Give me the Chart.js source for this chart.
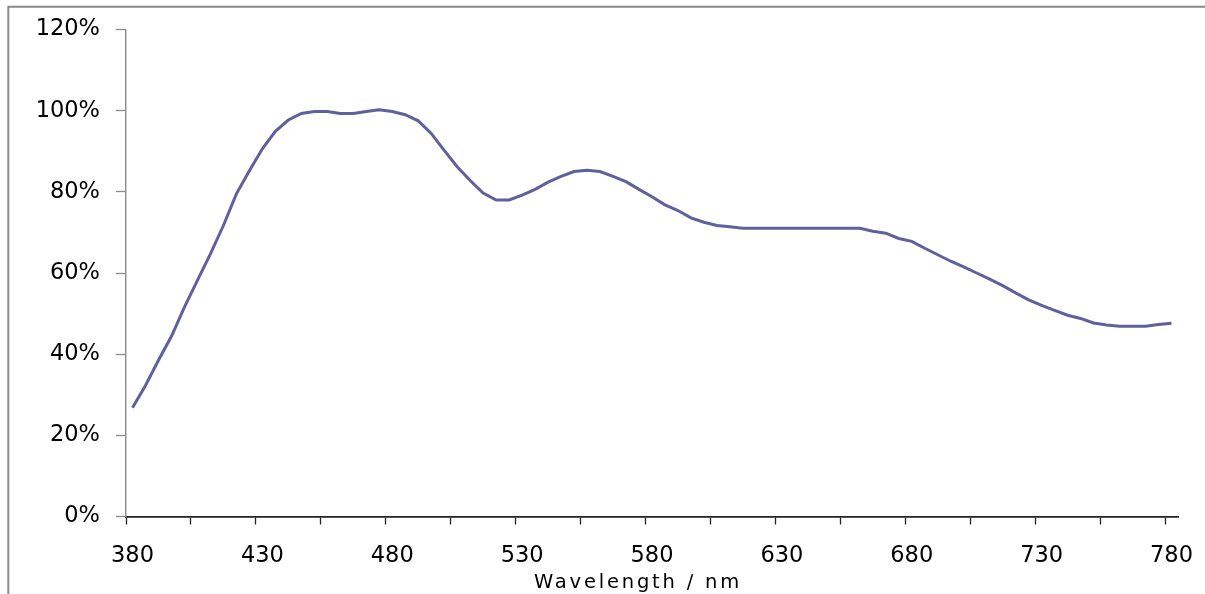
<!DOCTYPE html>
<html>
<head>
<meta charset="utf-8">
<script src="https://cdn.jsdelivr.net/npm/chart.js@4"></script>
<style>
  html, body { margin: 0; padding: 0; background: #ffffff; }
  #wrap { position: relative; width: 1205px; height: 594px; }
</style>
</head>
<body>
<div id="wrap"><canvas id="c" width="1205" height="594"></canvas></div>
<script>
// wavelength categories (nm), every 5 nm
const wavelengths = [
  380,385,390,395,400,405,410,415,420,425,
  430,435,440,445,450,455,460,465,470,475,
  480,485,490,495,500,505,510,515,520,525,
  530,535,540,545,550,555,560,565,570,575,
  580,585,590,595,600,605,610,615,620,625,
  630,635,640,645,650,655,660,665,670,675,
  680,685,690,695,700,705,710,715,720,725,
  730,735,740,745,750,755,760,765,770,775,
  780
];
// relative value (%)
const values = [
  26.8, 32.3, 38.5, 44.4, 51.6, 58.2, 64.7, 71.7, 79.5, 85.2,
  90.6, 94.9, 97.7, 99.3, 99.8, 99.8, 99.3, 99.3, 99.8, 100.2,
  99.8, 99.0, 97.5, 94.4, 90.2, 86.2, 82.8, 79.7, 78.0, 78.0,
  79.2, 80.6, 82.4, 83.8, 85.0, 85.3, 85.0, 83.8, 82.5, 80.6,
  78.8, 76.8, 75.4, 73.6, 72.5, 71.7, 71.4, 71.0, 71.0, 71.0,
  71.0, 71.0, 71.0, 71.0, 71.0, 71.0, 71.0, 70.3, 69.8, 68.5,
  67.8, 66.1, 64.5, 62.9, 61.5, 60.0, 58.5, 56.9, 55.1, 53.4,
  52.0, 50.8, 49.6, 48.8, 47.7, 47.2, 46.9, 46.9, 46.9, 47.3,
  47.6
];
const xTickLabels = ['380','430','480','530','580','630','680','730','780'];
const yTickValues = [0, 20, 40, 60, 80, 100, 120];
const xTitle = 'Wavelength / nm';
const FONT = '"DejaVu Sans", Verdana, sans-serif';

const framePlugin = {
  id: 'frame',
  beforeDraw(chart) {
    const ctx = chart.ctx;
    ctx.save();
    ctx.strokeStyle = '#8a8a8a';
    ctx.lineWidth = 2;
    ctx.beginPath();
    ctx.moveTo(8.3, 594);
    ctx.lineTo(8.3, 6.7);
    ctx.lineTo(1205, 6.7);
    ctx.stroke();
    ctx.restore();
  },
  afterDraw(chart) {
    const ctx = chart.ctx;
    ctx.save();
    ctx.letterSpacing = '2.8px';
    ctx.font = '19.5px ' + FONT;
    ctx.fillStyle = '#000';
    ctx.textAlign = 'center';
    ctx.textBaseline = 'alphabetic';
    ctx.fillText(xTitle, 638, 587.5);
    ctx.restore();
  }
};

new Chart(document.getElementById('c'), {
  type: 'line',
  data: {
    labels: wavelengths,
    datasets: [{
      data: values,
      borderColor: '#60609c',
      borderWidth: 3,
      pointRadius: 0,
      tension: 0,
      fill: false
    }]
  },
  options: {
    responsive: false,
    animation: false,
    devicePixelRatio: 1,
    layout: { padding: { top: 29, right: 27, bottom: 0, left: 0 } },
    plugins: { legend: { display: false }, tooltip: { enabled: false }, title: { display: false } },
    scales: {
      x: {
        type: 'category',
        offset: true,
        grid: {
          offset: true,
          drawOnChartArea: false,
          drawTicks: true,
          tickLength: 8,
          tickWidth: 1.3,
          tickColor: (c) => (c.index !== undefined && c.index % 5 === 0) ? '#222222' : 'rgba(0,0,0,0)'
        },
        border: { color: '#222222', width: 1.7 },
        ticks: {
          autoSkip: false,
          maxRotation: 0,
          minRotation: 0,
          padding: 18,
          color: '#000000',
          font: { family: FONT, size: 22.5 },
          callback: function (v, i) {
            const lbl = String(wavelengths[i]);
            return xTickLabels.includes(lbl) && (i % 10 === 0) ? lbl : '';
          }
        },
        afterFit(scale) {
          scale.height = 77.5;
          scale.paddingLeft = 0;
          scale.paddingRight = 0;
        }
      },
      y: {
        min: 0,
        max: 120,
        grid: {
          drawOnChartArea: false,
          drawTicks: true,
          tickLength: 10,
          tickWidth: 1.3,
          tickColor: '#8a8a8a'
        },
        border: { color: '#8a8a8a', width: 1.4 },
        ticks: {
          stepSize: 20,
          padding: 16,
          color: '#000000',
          font: { family: FONT, size: 22.5 },
          callback: (v) => yTickValues.includes(Math.round(v)) ? Math.round(v) + '%' : ''
        },
        afterFit(scale) { scale.width = 126; }
      }
    }
  },
  plugins: [framePlugin]
});
</script>
</body>
</html>
